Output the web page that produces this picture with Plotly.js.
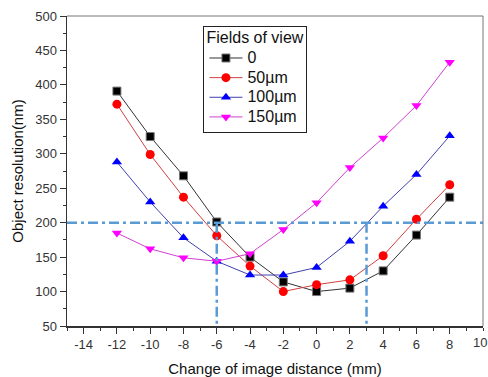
<!DOCTYPE html>
<html><head><meta charset="utf-8">
<script src="https://cdn.plot.ly/plotly-3.0.1.min.js"></script>
<style>html,body{margin:0;padding:0;background:#fff;}#chart{width:488px;height:377px;}</style>
</head><body><div id="chart"></div>
<script>
const xValues = [-12, -10, -8, -6, -4, -2, 0, 2, 4, 6, 8];
const seriesNames = ['0', '50\u00b5m', '100\u00b5m', '150\u00b5m'];
const legendTitle = 'Fields of view';
const field0 = [391, 325, 268, 201, 150, 114, 100, 105, 130, 182, 237];
const field50 = [372, 299, 237, 181, 137, 100, 110, 117, 152, 205, 255];
const field100 = [288, 230, 178, 144, 124, 124, 135, 173, 224, 270, 326];
const field150 = [185, 162, 149, 144, 155, 190, 229, 280, 323, 370, 433];
const refY = 200;
const refX = [-6, 3];
const xTicks = [-14, -12, -10, -8, -6, -4, -2, 0, 2, 4, 6, 8];
const edgeTick = 10;
const yTicks = [50, 100, 150, 200, 250, 300, 350, 400, 450, 500];

const colors = ['#000000', '#ff0000', '#0000ff', '#ff00ff'];
const lineColors = ['#333333', '#d04040', '#4040b0', '#d040d0'];
const symbols = ['square', 'circle', 'triangle-up', 'triangle-down'];
const allY = [field0, field50, field100, field150];
const big = t => '<span style="font-size:16px">' + t + '</span>';

const traces = allY.map((ys, i) => ({
  x: xValues, y: ys, name: big(seriesNames[i]), type: 'scatter', mode: 'lines+markers',
  line: {color: lineColors[i], width: 1},
  marker: {color: colors[i], symbol: symbols[i], size: i === 0 ? 8 : 9,
           line: {width: i === 0 ? 1 : 0, color: '#777'}}
}));

const refColor = '#5b9bd5';
const refDash = '10px,4px,3px,4px';
const shapes = [
  {type: 'line', xref: 'paper', x0: 0, x1: 1, yref: 'y', y0: refY, y1: refY,
   line: {color: refColor, width: 2.5, dash: refDash}},
  ...refX.map(v => ({type: 'line', xref: 'x', x0: v, x1: v, yref: 'y', y0: refY, y1: 50,
   line: {color: refColor, width: 2.5, dash: refDash}})),
  {type: 'line', xref: 'paper', yref: 'paper', x0: 0, x1: 1, y0: 1, y1: 1, line: {color: '#777', width: 1}},
  {type: 'line', xref: 'paper', yref: 'paper', x0: 1, x1: 1, y0: 0, y1: 1, line: {color: '#777', width: 1}}
];

const layout = {
  width: 488, height: 377,
  margin: {l: 67, r: 5, t: 16, b: 51},
  paper_bgcolor: '#fff', plot_bgcolor: '#fff',
  font: {family: 'Liberation Sans, Arial, sans-serif', size: 13, color: '#222'},
  showlegend: true,
  legend: {
    x: 0.328, y: 0.968, xanchor: 'left', yanchor: 'top',
    bgcolor: '#fff', bordercolor: '#222', borderwidth: 1,
    font: {size: 12.8, color: '#111'},
    title: {text: big(legendTitle), font: {size: 12.5, color: '#111'}},
    tracegroupgap: 0, itemwidth: 33
  },
  annotations: [{xref: 'x', x: edgeTick, yref: 'paper', y: 0, yanchor: 'top', xanchor: 'center',
    xshift: -3, yshift: -7, text: String(edgeTick), showarrow: false, font: {size: 13, color: '#333'}}],
  xaxis: {
    range: [-15, 10], tickvals: xTicks, ticktext: xTicks.map(String),
    ticks: 'outside', ticklen: 6, tickwidth: 1, tickcolor: '#333',
    minor: {dtick: 1, ticks: 'outside', ticklen: 3, tickcolor: '#333', showgrid: false},
    showline: true, linecolor: '#333', linewidth: 1.5, showgrid: false, zeroline: false,
    tickfont: {size: 13, color: '#333'},
    title: {text: 'Change of image distance (mm)', font: {size: 15, color: '#111'}, standoff: 14}
  },
  yaxis: {
    range: [50, 500], tickvals: yTicks, ticktext: yTicks.map(String),
    ticks: 'outside', ticklen: 6, tickwidth: 1, tickcolor: '#333',
    minor: {dtick: 25, ticks: 'outside', ticklen: 3, tickcolor: '#333', showgrid: false},
    showline: true, linecolor: '#333', linewidth: 1.5, showgrid: false, zeroline: false,
    tickfont: {size: 13, color: '#333'},
    title: {text: 'Object resolution(nm)', font: {size: 15, color: '#111'}, standoff: 8}
  },
  shapes: shapes
};

Plotly.newPlot('chart', traces, layout, {displayModeBar: false, staticPlot: true});
</script></body></html>
